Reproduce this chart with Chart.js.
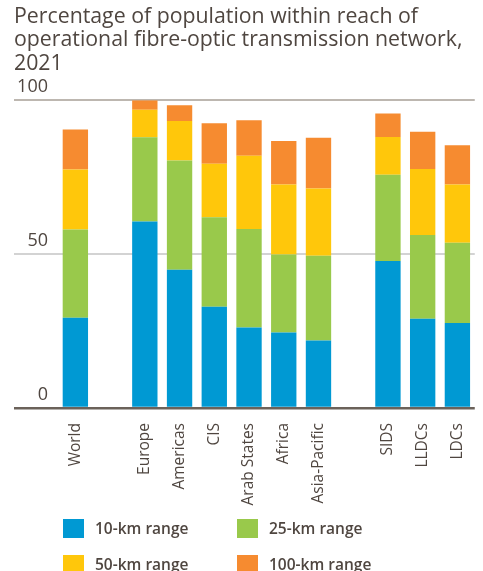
<!DOCTYPE html>
<html>
<head>
  <title>Fibre-optic network reach</title>
  <script src="https://cdn.jsdelivr.net/npm/chart.js"></script>
  <style>
    body { margin: 0; background: #fff; }
    #wrap { position: relative; width: 483px; height: 571px; }
    #legend { position: absolute; left: 0; top: 0; width: 483px; height: 571px; pointer-events: none;
      font-family: "Open Sans", sans-serif; font-weight: 600; font-size: 15.5px; color: #4f4640; }
    .item { position: absolute; display: flex; align-items: center; white-space: nowrap; }
    .box { width: 21px; height: 19px; margin-right: 11px; }
  </style>
</head>
<body>
  <div id="wrap">
    <canvas id="fibre-chart" width="483" height="571"></canvas>
    <div id="legend"></div>
  </div>

  <script>
    // categories ('' = empty slot between groups)
    var categories = ['World', '', 'Europe', 'Americas', 'CIS', 'Arab States', 'Africa', 'Asia-Pacific', '', 'SIDS', 'LLDCs', 'LDCs'];
    var range10 = [29.3, null, 60.6, 44.9, 32.9, 26.2, 24.5, 21.9, null, 47.8, 29.0, 27.6];
    var range25 = [28.7, null, 27.4, 35.5, 29.1, 32.0, 25.4, 27.6, null, 28.0, 27.2, 26.1];
    var range50 = [19.5, null, 8.9, 12.9, 17.4, 23.8, 22.7, 21.8, null, 12.3, 21.5, 18.9];
    var range100 = [13.0, null, 3.1, 5.1, 13.1, 11.5, 14.2, 16.5, null, 7.6, 12.1, 12.8];
    var seriesNames = ['10-km range', '25-km range', '50-km range', '100-km range'];
    var yTicks = [0, 50, 100];

    var colors = ['#0099d3', '#99c94b', '#ffc70b', '#f68b30'];
    var textColor = '#4f4640';
    var font = '"Open Sans", sans-serif';

    var series = [range10, range25, range50, range100];
    var datasets = series.map(function (d, i) {
      return {
        label: seriesNames[i],
        data: d,
        backgroundColor: colors[i],
        borderWidth: 0,
        categoryPercentage: 1,
        barPercentage: 0.73
      };
    });

    var chart = new Chart(document.getElementById('fibre-chart'), {
      type: 'bar',
      data: { labels: categories, datasets: datasets },
      options: {
        responsive: false,
        animation: false,
        layout: { padding: { left: 14, right: 0, top: 0, bottom: 63 } },
        plugins: {
          legend: { display: false },
          tooltip: { enabled: false },
          title: {
            display: true,
            align: 'start',
            text: ['Percentage of population within reach of', 'operational fibre-optic transmission network,', '2021'],
            color: textColor,
            font: { family: font, size: 21.3, weight: 'normal', lineHeight: 1.1 },
            padding: { top: 5, bottom: 25 }
          }
        },
        scales: {
          x: {
            stacked: true,
            grid: { display: false },
            border: { display: false },
            ticks: {
              autoSkip: false,
              minRotation: 90,
              maxRotation: 90,
              padding: 7,
              color: textColor,
              font: { family: font, size: 15.5 }
            },
            afterFit: function (scale) { scale.height = 100; }
          },
          y: {
            stacked: true,
            min: 0,
            max: 100,
            afterBuildTicks: function (scale) {
              scale.ticks = yTicks.map(function (v) { return { value: v }; });
            },
            afterFit: function (scale) { scale.width = 44; },
            border: { display: false },
            grid: {
              drawTicks: true,
              tickLength: 44,
              color: function (c) { return c.tick && c.tick.value === 0 ? '#6b625a' : (c.tick && c.tick.value === 100 ? '#bdb7b0' : '#d3d3d3'); },
              lineWidth: function (c) { return c.tick && c.tick.value === 0 ? 2.5 : 2; }
            },
            ticks: {
              padding: -34,
              labelOffset: -13,
              color: textColor,
              font: { family: font, size: 18 }
            }
          }
        }
      }
    });

    // legend in two columns
    var legend = document.getElementById('legend');
    var spots = [[63, 527], [237, 527], [63, 563], [237, 563]];
    seriesNames.forEach(function (name, i) {
      var el = document.createElement('div');
      el.className = 'item';
      el.style.left = spots[i][0] + 'px';
      el.style.top = (spots[i][1] - 10) + 'px';
      el.innerHTML = '<span class="box" style="background:' + colors[i] + '"></span><span>' + name + '</span>';
      legend.appendChild(el);
    });
  </script>
</body>
</html>
